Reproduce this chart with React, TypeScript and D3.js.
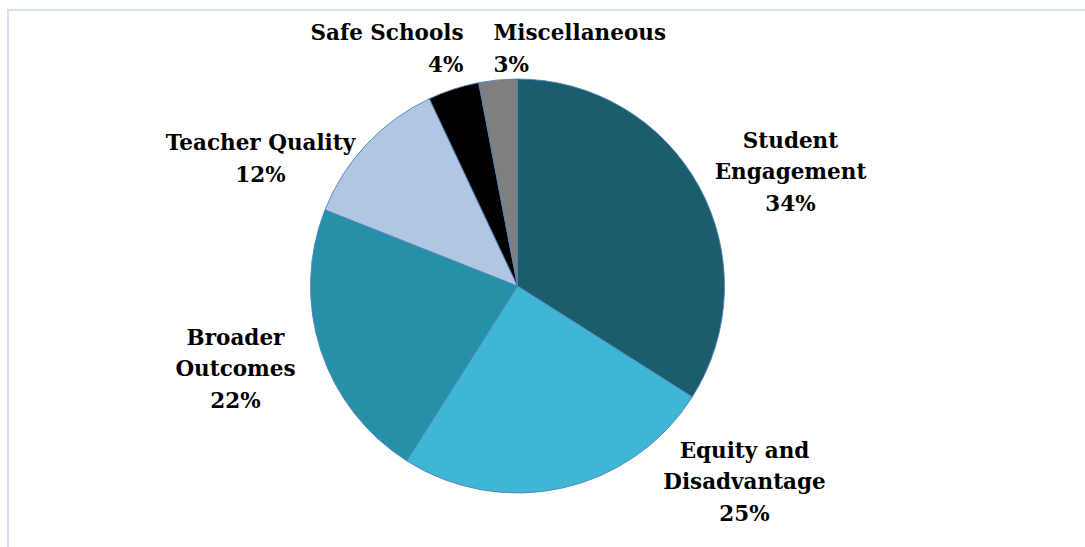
import { useEffect, useRef } from 'react';
import * as d3 from 'd3';

const categories = ['Student Engagement', 'Equity and Disadvantage', 'Broader Outcomes', 'Teacher Quality', 'Safe Schools', 'Miscellaneous'];
const shares = [34, 25, 22, 12, 4, 3];
const colors = ['#1b5d6c', '#3fb7d4', '#2790a9', '#b1c7e1', '#000000', '#7f7f7f'];
const labelLines = [
  ['Student', 'Engagement'],
  ['Equity and', 'Disadvantage'],
  ['Broader', 'Outcomes'],
  ['Teacher Quality'],
  ['Safe Schools'],
  ['Miscellaneous'],
];

// label layout relative to the pie centre (Excel "best fit" placement)
const labelLayout: { dx: number; dy: number; anchor: string }[] = [
  { dx: 273, dy: -115, anchor: 'middle' },
  { dx: 227, dy: 195, anchor: 'middle' },
  { dx: -282, dy: 82, anchor: 'middle' },
  { dx: -257, dy: -128, anchor: 'middle' },
  { dx: -54, dy: -238, anchor: 'end' },
  { dx: -24, dy: -238, anchor: 'start' },
];

const width = 1085;
const height = 547;

export default function App() {
  const svgRef = useRef<SVGSVGElement>(null);

  useEffect(() => {
    if (!svgRef.current) return;
    const svg = d3.select(svgRef.current);
    svg.selectAll('*').remove();

    svg.append('rect').attr('width', width).attr('height', height).attr('fill', '#fff');

    // chart frame (only top/left edges visible in the crop)
    svg.append('rect')
      .attr('x', 8).attr('y', 10)
      .attr('width', width + 20).attr('height', height + 20)
      .attr('fill', 'none')
      .attr('stroke', '#d6e0f1')
      .attr('stroke-width', 2);

    const cx = 517.5;
    const cy = 286;
    const r = 207;

    const data = categories.map((c, i) => ({ name: c, value: shares[i], i }));
    const pie = d3.pie<{ name: string; value: number; i: number }>()
      .value(d => d.value)
      .sort(null);
    const arc = d3.arc<d3.PieArcDatum<{ name: string; value: number; i: number }>>()
      .innerRadius(0)
      .outerRadius(r);

    const g = svg.append('g').attr('transform', `translate(${cx},${cy})`);

    g.selectAll('path')
      .data(pie(data))
      .join('path')
      .attr('d', arc)
      .attr('fill', d => colors[d.data.i])
      .attr('stroke', '#4f81bd')
      .attr('stroke-width', 0.9);

    const lineH = 31.5;
    const labels = g.selectAll('text')
      .data(data)
      .join('text')
      .attr('font-family', '"DejaVu Serif", serif')
      .attr('font-weight', 'bold')
      .attr('font-size', 21.5)
      .attr('fill', '#000')
      .attr('text-anchor', d => labelLayout[d.i].anchor)
      .attr('dominant-baseline', 'central');

    labels.each(function (d) {
      const lines = [...labelLines[d.i], `${d.value}%`];
      const lay = labelLayout[d.i];
      const top = lay.dy - ((lines.length - 1) * lineH) / 2;
      d3.select(this)
        .selectAll('tspan')
        .data(lines)
        .join('tspan')
        .attr('x', lay.dx)
        .attr('y', (_, k) => top + k * lineH)
        .text(t => t);
    });
  }, []);

  return (
    <div style={{ position: 'fixed', left: 0, top: 0, width, height, background: '#fff' }}>
      <svg ref={svgRef} width={width} height={height} style={{ display: 'block' }} />
    </div>
  );
}
